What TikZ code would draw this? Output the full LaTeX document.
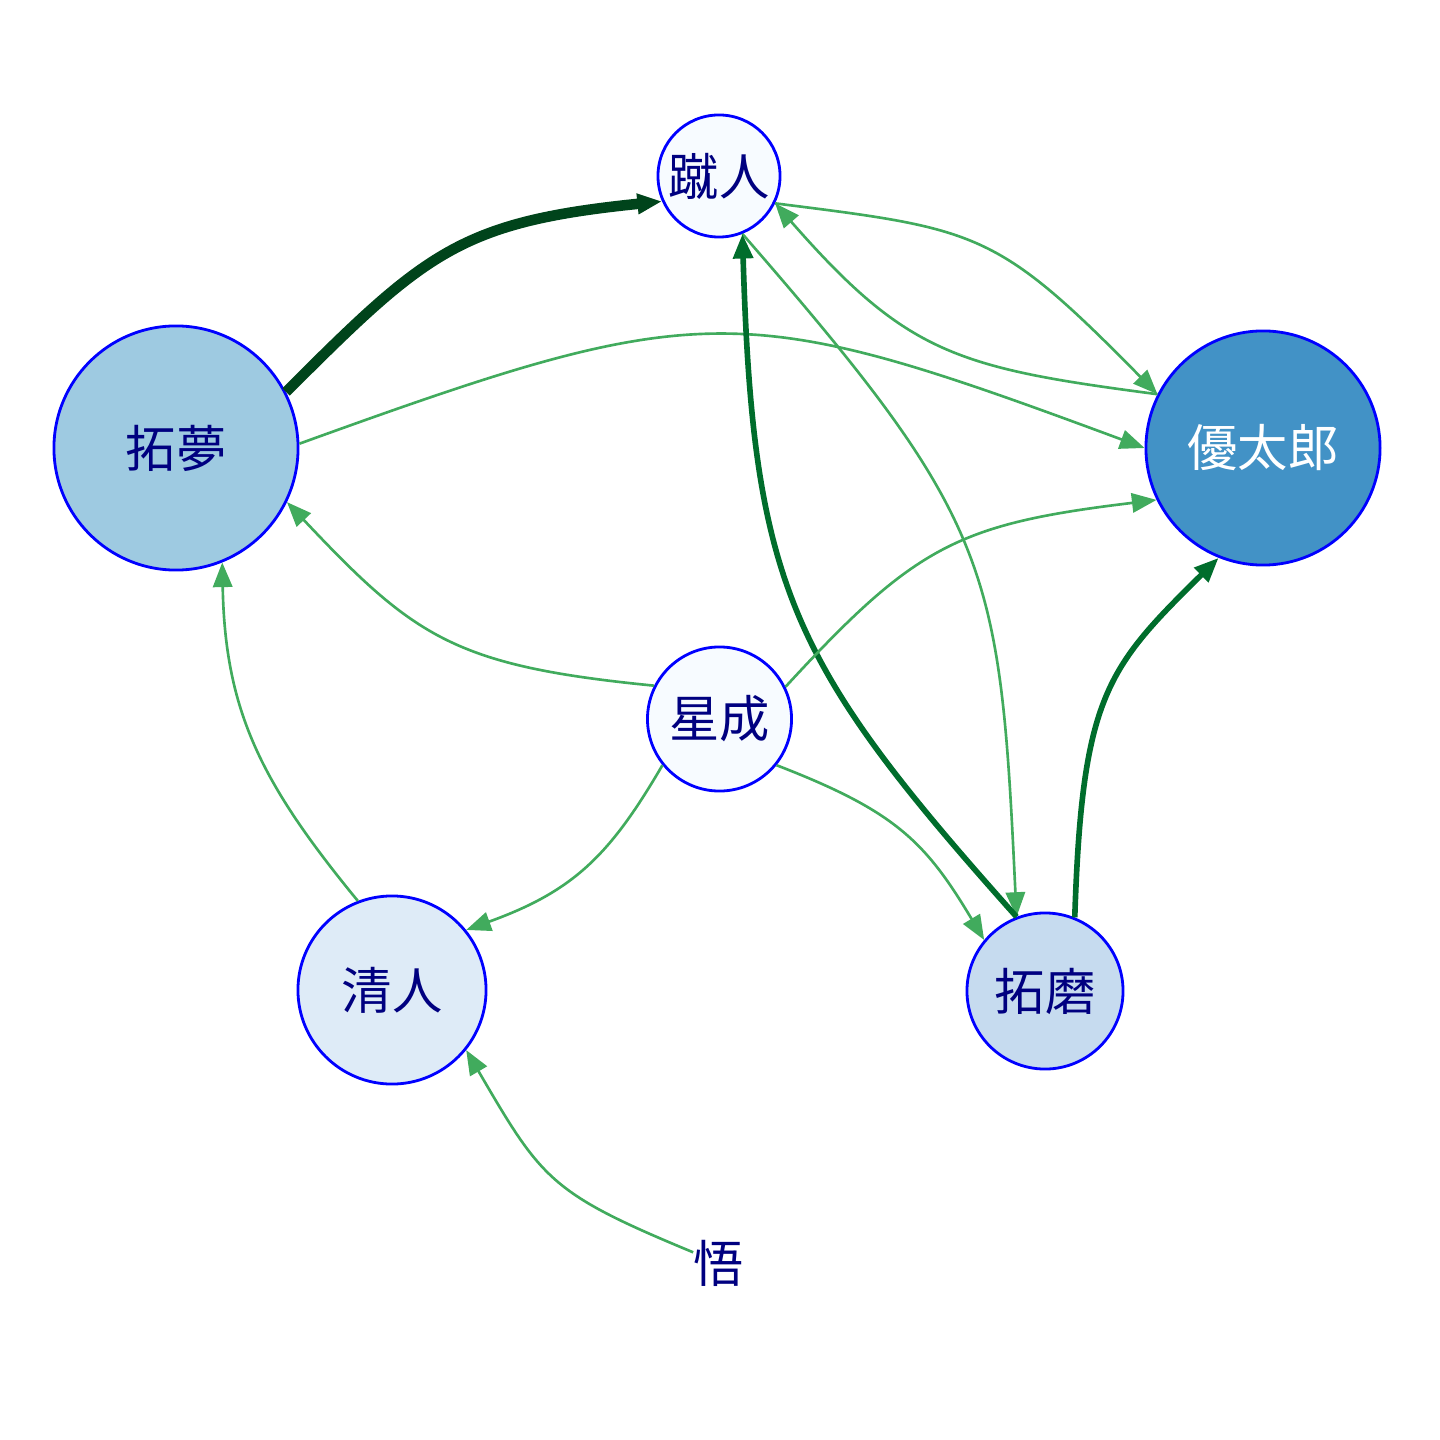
\documentclass[tikz,border=0pt]{standalone}
\usepackage{fontspec}
\newfontfamily\cjk{Noto Sans CJK JP}
\usetikzlibrary{arrows.meta}
\definecolor{nodeborder}{HTML}{0000FF}
\definecolor{navytext}{HTML}{000080}
\definecolor{fillA}{HTML}{F7FBFF}
\definecolor{fillB}{HTML}{DEEBF7}
\definecolor{fillC}{HTML}{C6DBEF}
\definecolor{fillD}{HTML}{9ECAE1}
\definecolor{fillE}{HTML}{4292C6}
\definecolor{edgeL}{HTML}{41AB5D}
\definecolor{edgeM}{HTML}{006D2C}
\definecolor{edgeH}{HTML}{00441B}
\begin{document}
\begin{tikzpicture}[x=0.01cm,y=-0.01cm,
  vertex/.style={circle, draw=nodeborder, line width=0.8pt, inner sep=0pt,
    font=\cjk\fontsize{14.3}{16}\selectfont, text=navytext},
  plainlabel/.style={inner sep=0pt, font=\cjk\fontsize{14.3}{16}\selectfont, text=navytext},
  tip/.style={-{Triangle[length=7pt,width=5.5pt]}},
  thinedge/.style={tip, draw=edgeL, line width=0.75pt},
  midedge/.style={tip, draw=edgeM, line width=1.6pt},
  heavyedge/.style={tip, draw=edgeH, line width=3pt}
]
\useasboundingbox (0,0) rectangle (1440,1440);

\node[vertex, fill=fillA, minimum size=1.22cm] (kj) at (719,176) {蹴人};
\node[vertex, fill=fillD, minimum size=2.44cm] (tm) at (176,448) {拓夢};
\node[vertex, fill=fillE, minimum size=2.34cm, text=white] (yt) at (1263,448) {優太郎};
\node[vertex, fill=fillA, minimum size=1.44cm] (ss) at (719.5,719) {星成};
\node[vertex, fill=fillC, minimum size=1.56cm] (tk) at (1045,991) {拓磨};
\node[vertex, fill=fillB, minimum size=1.88cm] (kt) at (392,990) {清人};
\node[plainlabel] (sa) at (719,1263) {悟};

\draw[heavyedge] (tm.27) .. controls (426,252) and (460,222) .. (kj.204);
\draw[thinedge] (tm.2) .. controls (705,297) and (740,298) .. (yt.180);
\draw[thinedge] (kj.-26.6) .. controls (978,229) and (996,230) .. (yt.153.4);
\draw[thinedge] (yt.153.4) .. controls (957,368) and (907,354) .. (kj.-26.6);
\draw[thinedge] (kj.-68.2) .. controls (993,522) and (1000,565) .. (tk.111.8);
\draw[midedge] (tk.111.8) .. controls (790,663) and (753,587) .. (kj.-68.2);
\draw[midedge] (tk.68.1) .. controls (1082,695) and (1107,668) .. (yt.248.1);
\draw[thinedge] (ss.153.5) .. controls (455,666) and (415,638) .. (tm.-26.5);
\draw[thinedge] (ss.26.5) .. controls (916,545) and (958,524) .. (yt.206.5);
\draw[thinedge] (ss.219.6) .. controls (610,855) and (574,891) .. (kt.39.6);
\draw[thinedge] (ss.-39.9) .. controls (895,811) and (925,841) .. (tk.140.1);
\draw[thinedge] (kt.111.7) .. controls (261,783) and (225,711) .. (tm.-68.3);
\draw[thinedge] (sa) .. controls (550,1193) and (542,1180) .. (kt.-39.9);
\end{tikzpicture}
\end{document}
